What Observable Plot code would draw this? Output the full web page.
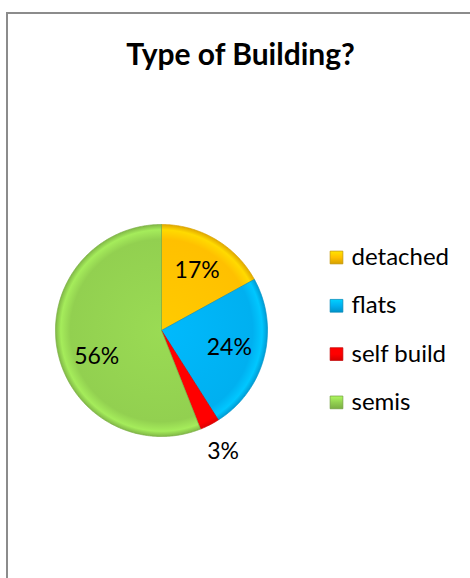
<!DOCTYPE html>
<html><head><meta charset="utf-8">
<script src="https://cdn.jsdelivr.net/npm/d3@7"></script>
<script src="https://cdn.jsdelivr.net/npm/@observablehq/plot@0.6"></script>
<style>
body{margin:0;background:#fff;}
#frame{position:absolute;left:6px;top:12px;width:480px;height:600px;border-left:2px solid #8c8c8c;border-top:2px solid #8c8c8c;box-sizing:border-box;}
#chart{position:absolute;left:0;top:0;}
</style></head><body>
<div id="frame"></div><div id="chart"></div>
<script>
const title = "Type of Building?";
const categories = ["detached", "flats", "self build", "semis"];
const values = [17, 24, 3, 56];
const valueLabels = ["17%", "24%", "3%", "56%"];
const colors = ["#FFC000", "#00B0F0", "#FF0000", "#92D050"];

const W = 470, H = 578, cx = 161, cy = 330, R = 106;
const font = "Lato, 'Open Sans', sans-serif";
const total = d3.sum(values);
const arcs = d3.pie().sort(null).value(d => d)(values);

function slicePoints(a) {
  const p = [{x: cx, y: cy}];
  const n = Math.max(4, Math.ceil((a.endAngle - a.startAngle) / 0.01));
  for (let j = 0; j <= n; j++) {
    const t = a.startAngle + (a.endAngle - a.startAngle) * j / n;
    p.push({x: cx + R * Math.sin(t), y: cy - R * Math.cos(t)});
  }
  p.push({x: cx, y: cy});
  return p;
}

const labelData = arcs.map((a, i) => {
  const mid = (a.startAngle + a.endAngle) / 2;
  const frac = values[i] / total;
  const small = frac < 0.05;
  const r = small ? R * 1.28 : R * 0.66;
  // Excel's best-fit nudges the majority slice's label toward the horizontal
  const ang = frac > 0.5 ? mid - 0.2 : mid;
  return {text: valueLabels[i], x: cx + r * Math.sin(ang), y: cy - r * Math.cos(ang)};
});

const legendData = categories.map((c, i) => ({name: c, color: colors[i], key: i, x: 336, y: 257 + i * 48.3}));

// gradient definitions (bevel-like shading)
const defs = () => {
  const ns = "http://www.w3.org/2000/svg";
  const d = document.createElementNS(ns, "defs");
  colors.forEach((c, i) => {
    const g = document.createElementNS(ns, "radialGradient");
    g.setAttribute("id", "pg" + i);
    g.setAttribute("gradientUnits", "userSpaceOnUse");
    g.setAttribute("cx", cx); g.setAttribute("cy", cy); g.setAttribute("r", R);
    [[0, d3.color(c).brighter(0.15)], [0.86, d3.color(c)], [0.95, d3.color(c).brighter(0.35)], [1, d3.color(c).darker(0.35)]].forEach(([o, col]) => {
      const s = document.createElementNS(ns, "stop");
      s.setAttribute("offset", o); s.setAttribute("stop-color", col.formatHex());
      g.appendChild(s);
    });
    d.appendChild(g);
    const lg = document.createElementNS(ns, "linearGradient");
    lg.setAttribute("id", "lg" + i);
    lg.setAttribute("x1", 0); lg.setAttribute("y1", 0); lg.setAttribute("x2", 0); lg.setAttribute("y2", 1);
    [[0, d3.color(c).brighter(0.5)], [0.5, d3.color(c)], [1, d3.color(c).darker(0.5)]].forEach(([o, col]) => {
      const s = document.createElementNS(ns, "stop");
      s.setAttribute("offset", o); s.setAttribute("stop-color", col.formatHex());
      lg.appendChild(s);
    });
    d.appendChild(lg);
  });
  return d;
};

const sliceMarks = arcs.map((a, i) => Plot.line(slicePoints(a), {
  x: "x", y: "y", fill: `url(#pg${i})`, stroke: d3.color(colors[i]).darker(0.5).formatHex(), strokeWidth: 0.7, curve: "linear"
}));

const chart = Plot.plot({
  width: W, height: H,
  margin: 0,
  x: {type: "identity", axis: null},
  y: {type: "identity", axis: null},
  style: {background: "transparent"},
  marks: [
    defs,
    ...sliceMarks,
    Plot.text(labelData, {x: "x", y: "y", text: "text", fontSize: 23, fontFamily: font, fill: "#000"}),
    Plot.dot(legendData, {x: "x", y: "y", symbol: "square", r: 7.2, fill: d => `url(#lg${d.key})`, stroke: d => d3.color(d.color).darker(0.8).formatHex(), strokeWidth: 0.7}),
    Plot.text(legendData, {x: d => d.x + 15, y: "y", text: "name", textAnchor: "start", fontSize: 24, fontFamily: font, fill: "#000"}),
    Plot.text([title], {x: 240, y: 55, text: d => d, fontSize: 30, fontWeight: "bold", fontFamily: font, fill: "#000"})
  ]
});
document.getElementById("chart").appendChild(chart);
</script>
</body></html>
